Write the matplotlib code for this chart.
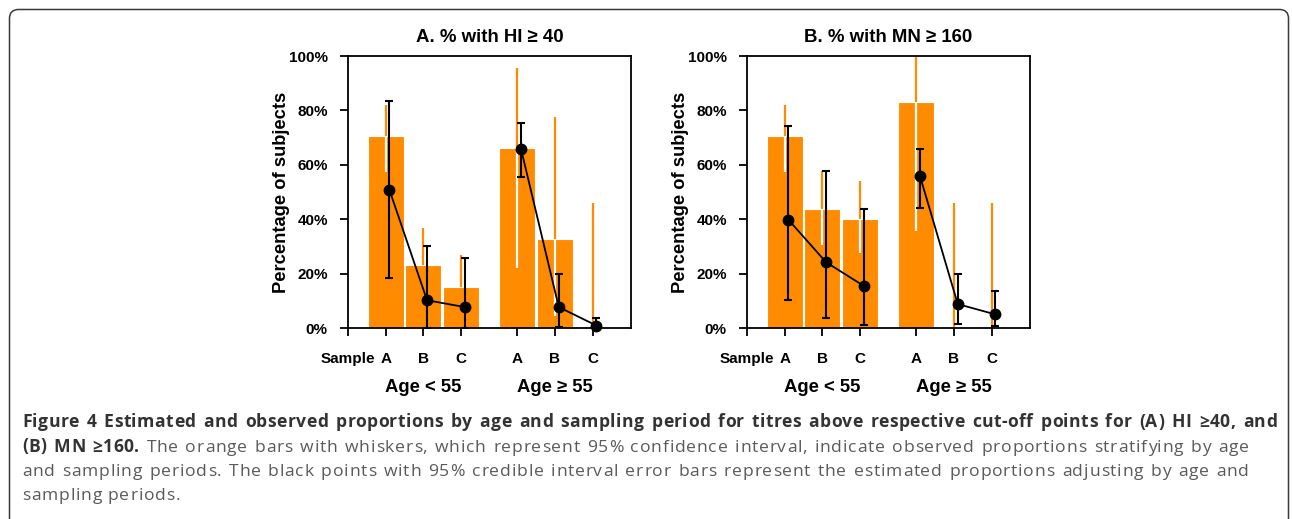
import matplotlib
matplotlib.use("Agg")
import matplotlib.pyplot as plt
from matplotlib.patches import FancyBboxPatch
from matplotlib.transforms import IdentityTransform, blended_transform_factory

W, H = 1292, 519
DPI = 100

# ---------------- data ----------------
tick_pos = [0, 1, 2, 3, 4.5, 5.5, 6.5]
tick_labels = ["Sample", "A", "B", "C", "A", "B", "C"]
group_pos = [2, 5.5]
group_labels = ["Age < 55", "Age \u2265 55"]
yticks = [0, 20, 40, 60, 80, 100]
ytick_labels = ["0%", "20%", "40%", "60%", "80%", "100%"]
titles = ["A. % with HI \u2265 40", "B. % with MN \u2265 160"]
ylabel = "Percentage of subjects"

bar_x = [1, 2, 3, 4.5, 5.5, 6.5]

# Panel A (HI >= 40)
obsA = [70.7, 23.3, 14.9, 66.3, 32.9, 0.0]
obsA_lo = [57.5, 23.3, 14.9, 22.0, 4.3, 0.0]
obsA_hi = [82.1, 36.6, 26.8, 95.7, 77.7, 46.0]
estA = [50.8, 10.2, 7.7, 65.7, 7.7, 0.9]
estA_lo = [18.4, 0.0, 0.0, 55.4, 0.3, 0.0]
estA_hi = [83.6, 30.0, 25.9, 75.4, 20.0, 3.8]

# Panel B (MN >= 160)
obsB = [70.7, 43.6, 40.0, 83.0, 0.0, 0.0]
obsB_lo = [57.5, 30.6, 27.5, 35.5, 0.0, 0.0]
obsB_hi = [82.1, 57.6, 54.2, 100.0, 46.0, 46.0]
estB = [39.8, 24.2, 15.5, 55.7, 8.8, 5.0]
estB_lo = [10.3, 3.8, 1.1, 44.3, 1.6, 0.6]
estB_hi = [74.4, 57.8, 43.7, 65.9, 19.8, 13.7]

caption_lines = [
    [("Figure 4 Estimated and observed proportions by age and sampling period for titres above respective cut-off points for (A) HI \u226540, and", "bold")],
    [("(B) MN \u2265160.", "bold"),
     ("The orange bars with whiskers, which represent 95% confidence interval, indicate observed proportions stratifying by age", "normal")],
    [("and sampling periods. The black points with 95% credible interval error bars represent the estimated proportions adjusting by age and", "normal")],
    [("sampling periods.", "normal")],
]

# ---------------- style ----------------
ORANGE = "#FF8C00"
CHART_FONT = "Liberation Sans"
CAP_FONT = "Open Sans"

fig = plt.figure(figsize=(W / DPI, H / DPI), dpi=DPI)
fig.patch.set_facecolor("white")


def px_axes(left, top, right, bottom):
    return fig.add_axes([left / W, 1 - bottom / H, (right - left) / W, (bottom - top) / H])


def draw_panel(ax, title, obs, obs_lo, obs_hi, est, est_lo, est_hi):
    ax.set_xlim(0, 7.52)
    ax.set_ylim(0, 100)
    ax.bar(bar_x, obs, width=0.96, color=ORANGE, edgecolor="white", linewidth=0.8, zorder=1)
    for x, p, lo, hi in zip(bar_x, obs, obs_lo, obs_hi):
        top_lo = max(lo, p)
        if hi > top_lo:
            ax.plot([x, x], [top_lo, hi], color=ORANGE, lw=1.6, solid_capstyle="butt", zorder=2)
        if min(hi, p) > lo:
            ax.plot([x, x], [lo, min(hi, p)], color="white", lw=1.6, solid_capstyle="butt", zorder=2)
    ex = [x + 0.1 for x in bar_x]
    yerr = [[e - l for e, l in zip(est, est_lo)], [h - e for e, h in zip(est, est_hi)]]
    ax.errorbar(ex, est, yerr=yerr, fmt="none", ecolor="black", elinewidth=1.5,
                capsize=2.6, capthick=1.5, zorder=3)
    for sl in (slice(0, 3), slice(3, 6)):
        ax.plot(ex[sl], est[sl], color="black", lw=1.3, zorder=4)
    ax.plot(ex, est, "o", color="black", ms=7.5, zorder=5, clip_on=False)

    ax.set_xticks(tick_pos)
    ax.set_xticklabels(tick_labels, fontfamily=CHART_FONT, fontweight="bold", fontsize=11)
    ax.set_yticks(yticks)
    ax.set_yticklabels(ytick_labels, fontfamily=CHART_FONT, fontweight="bold", fontsize=11)
    ax.tick_params(axis="x", length=6, width=1.3, pad=11, direction="out")
    ax.tick_params(axis="y", length=6, width=1.3, pad=8.5, direction="out")
    for s in ax.spines.values():
        s.set_linewidth(1.3)
    ax.set_title(title, fontfamily=CHART_FONT, fontweight="bold", fontsize=13.4, pad=10)
    ax.text(-0.235, 0.5, ylabel, transform=ax.transAxes, rotation=90, ha="center", va="center",
            fontfamily=CHART_FONT, fontweight="bold", fontsize=13.2)
    tr = blended_transform_factory(ax.transData, ax.transAxes)
    for gx, gl in zip(group_pos, group_labels):
        ax.text(gx, -0.217, gl, transform=tr, ha="center", va="center",
                fontfamily=CHART_FONT, fontweight="bold", fontsize=13.3)


axA = px_axes(348, 56, 631, 328)
axB = px_axes(747, 56, 1030, 328)
draw_panel(axA, titles[0], obsA, obsA_lo, obsA_hi, estA, estA_lo, estA_hi)
draw_panel(axB, titles[1], obsB, obsB_lo, obsB_hi, estB, estB_lo, estB_hi)

# ---------------- border ----------------
border = FancyBboxPatch((9.5, -30), 1279, H - 9.5 + 30,
                        boxstyle="round,pad=0,rounding_size=9",
                        transform=IdentityTransform(), facecolor="none",
                        edgecolor="#3a3a3a", linewidth=1.1)
fig.add_artist(border)

# ---------------- caption (letter-spaced, justified) ----------------
renderer = fig.canvas.get_renderer()
CAP_SIZE = 12.6
colors = {"bold": "#333333", "normal": "#5a5a5a"}
_cache = {}


def measure(s, weight):
    key = (s, weight)
    if key not in _cache:
        t = fig.text(0, 0, s, fontfamily=CAP_FONT, fontweight=weight, fontsize=CAP_SIZE,
                     transform=IdentityTransform())
        _cache[key] = t.get_window_extent(renderer).width
        t.remove()
    return _cache[key]


space_w = measure("a a", "normal") - measure("aa", "normal")
# slight letter spacing for the regular text so the last (unjustified) line has the reference width
TRACK_N = max(0.0, (158 - measure("sampling", "normal") - measure("periods.", "normal") - space_w) / 16.0)
TRACKS = {"normal": TRACK_N, "bold": 0.5 * TRACK_N}


def word_width(w, weight):
    return measure(w, weight) + (len(w) - 1) * TRACKS[weight]


def draw_word(w, weight, x0, baseline):
    for i in range(len(w)):
        xr = x0 + measure(w[:i + 1], weight) + i * TRACKS[weight]
        fig.text(xr, H - baseline, w[i], fontfamily=CAP_FONT, fontweight=weight,
                 fontsize=CAP_SIZE, color=colors[weight], ha="right", va="baseline",
                 transform=IdentityTransform())


def draw_caption_line(segments, x0, x1, baseline):
    words = []
    for text, weight in segments:
        for w in text.split(" "):
            words.append((w, weight))
    widths = [word_width(w, wt) for w, wt in words]
    if x1 is not None and len(words) > 1:
        gap = (x1 - x0 - sum(widths)) / (len(words) - 1)
    else:
        gap = space_w + 2 * TRACK_N
    x = x0
    for (w, wt), wd in zip(words, widths):
        draw_word(w, wt, x, baseline)
        x += wd + gap


baselines = [427, 451.5, 476, 500.5]
rights = [1277, 1249, 1249, None]
for segs, b, r in zip(caption_lines, baselines, rights):
    draw_caption_line(segs, 22, r, b)

fig.savefig("out.png", dpi=DPI)
